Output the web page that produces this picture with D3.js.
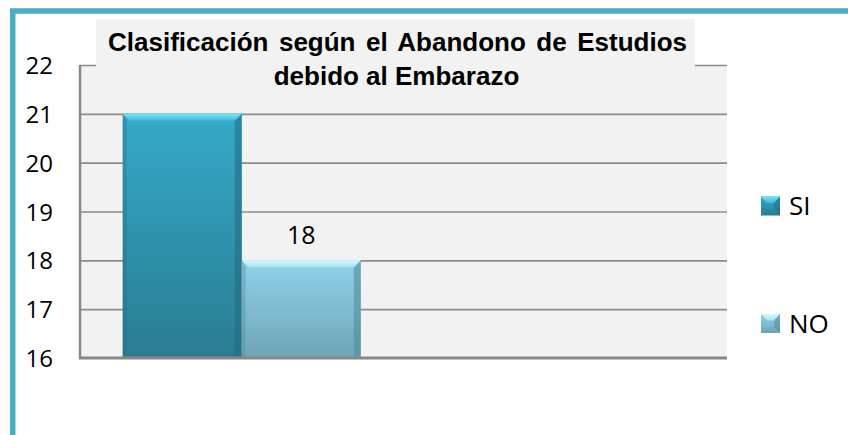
<!DOCTYPE html>
<html>
<head>
<meta charset="utf-8">
<script src="https://cdn.jsdelivr.net/npm/d3@7"></script>
<style>
  html, body { margin: 0; padding: 0; background: #fff; }
  svg { display: block; }
</style>
</head>
<body>
<div id="chart"></div>
<script>
// data
var categories = ["1", "2"];
var series = ["SI", "NO"];
var valuesSI = [21, null];
var valuesNO = [18, null];
var yTicks = [16, 17, 18, 19, 20, 21, 22];
var titleLines = ["Clasificación según el Abandono de Estudios", "debido al Embarazo"];
var labelledSeries = ["NO"];

var width = 848, height = 435;
var margin = {top: 65, right: 121, bottom: 77, left: 80};
var plotW = width - margin.left - margin.right;
var y0 = height - margin.bottom;

var svg = d3.select("#chart").append("svg")
    .attr("width", width)
    .attr("height", height);

var defs = svg.append("defs");
function vGrad(id, top, bottom) {
  var g = defs.append("linearGradient").attr("id", id)
      .attr("x1", 0).attr("y1", 0).attr("x2", 0).attr("y2", 1);
  g.append("stop").attr("offset", "0%").attr("stop-color", top);
  g.append("stop").attr("offset", "100%").attr("stop-color", bottom);
}
vGrad("bodySI", "#35aac9", "#2a7c92");
vGrad("bodyNO", "#92d2ea", "#6ea5b6");
vGrad("capSI", "#72e4f7", "#3fb8d4");
vGrad("capNO", "#d2fcff", "#a6e3f2");

var colors = {
  SI: {body: "url(#bodySI)", cap: "url(#capSI)", edge: "#236a7e"},
  NO: {body: "url(#bodyNO)", cap: "url(#capNO)", edge: "#4f8898"}
};

// outer frame
svg.append("rect")
    .attr("x", 12.75).attr("y", 11)
    .attr("width", width + 20).attr("height", height + 20)
    .attr("fill", "none")
    .attr("stroke", "#4bacc6")
    .attr("stroke-width", 5.5);

// scales
var y = d3.scaleLinear().domain([16, 22]).range([y0, margin.top]);
var x = d3.scaleBand().domain(categories)
    .range([margin.left, margin.left + plotW])
    .paddingInner(0.264).paddingOuter(0.132);
var xs = d3.scaleBand().domain(series).range([0, x.bandwidth()]);

// plot area
svg.append("rect")
    .attr("x", margin.left).attr("y", margin.top)
    .attr("width", plotW).attr("height", y0 - margin.top)
    .attr("fill", "#f2f2f2");

// gridlines
svg.append("g")
    .attr("transform", "translate(" + margin.left + ",0)")
    .call(d3.axisLeft(y).tickValues(yTicks.slice(1)).tickSize(-plotW).tickFormat(""))
    .call(g => g.select(".domain").remove())
    .call(g => g.selectAll(".tick line").attr("stroke", "#8c8c8c").attr("stroke-width", 1.6));

// bars
var rows = [];
categories.forEach(function(c, i) {
  rows.push({cat: c, s: "SI", v: valuesSI[i]});
  rows.push({cat: c, s: "NO", v: valuesNO[i]});
});
rows = rows.filter(d => d.v != null);

var bars = svg.append("g").selectAll("g.bar").data(rows).join("g").attr("class", "bar");
bars.each(function(d) {
  var g = d3.select(this);
  var bx = x(d.cat) + xs(d.s), bw = xs.bandwidth();
  var by = y(d.v), bh = y0 - by;
  var c = colors[d.s];
  var bev = 7;
  g.append("rect").attr("x", bx).attr("y", by).attr("width", bw).attr("height", bh).attr("fill", c.body);
  // side shading
  g.append("polygon")
      .attr("points", [[bx + bw, by], [bx + bw - bev, by + bev], [bx + bw - bev, y0], [bx + bw, y0]].join(" "))
      .attr("fill", c.edge).attr("opacity", 0.55);
  g.append("polygon")
      .attr("points", [[bx, by], [bx + 4, by + bev], [bx + 4, y0], [bx, y0]].join(" "))
      .attr("fill", c.edge).attr("opacity", 0.35);
  // top bevel
  g.append("polygon")
      .attr("points", [[bx, by], [bx + bw, by], [bx + bw - bev, by + bev], [bx + bev, by + bev]].join(" "))
      .attr("fill", c.cap);
});

// data labels
svg.append("g").selectAll("text")
  .data(rows.filter(d => labelledSeries.indexOf(d.s) >= 0))
  .join("text")
    .attr("x", d => x(d.cat) + xs(d.s) + xs.bandwidth() / 2)
    .attr("y", d => y(d.v) - 16)
    .attr("text-anchor", "middle")
    .attr("font-family", "'Open Sans', sans-serif")
    .attr("font-size", 25)
    .attr("fill", "#000")
    .text(d => d.v);

// axes lines
svg.append("line")
    .attr("x1", margin.left).attr("x2", margin.left)
    .attr("y1", margin.top).attr("y2", y0 + 1)
    .attr("stroke", "#878787").attr("stroke-width", 2.5);
svg.append("line")
    .attr("x1", margin.left - 1).attr("x2", margin.left + plotW)
    .attr("y1", y0).attr("y2", y0)
    .attr("stroke", "#878787").attr("stroke-width", 3);

// y tick labels
svg.append("g")
    .attr("transform", "translate(" + (margin.left - 27) + ",0)")
    .call(d3.axisLeft(y).tickValues(yTicks).tickSize(0).tickPadding(0).tickFormat(d3.format("d")))
    .call(g => g.select(".domain").remove())
    .call(g => g.selectAll("text")
        .attr("font-family", "'Open Sans', sans-serif")
        .attr("font-size", 24)
        .attr("fill", "#000")
        .attr("dy", "0.36em"));

// title
svg.append("rect")
    .attr("x", 96).attr("y", 19)
    .attr("width", 599).attr("height", 48)
    .attr("fill", "#f2f2f2");
var tcx = 397.5;
var t1 = svg.append("text")
    .attr("x", tcx).attr("y", 51)
    .attr("text-anchor", "middle")
    .attr("font-family", "'Liberation Sans', Arial, sans-serif")
    .attr("font-weight", "bold")
    .attr("font-size", 26)
    .text(titleLines[0]);
var natural = t1.node().getComputedTextLength();
var gaps = titleLines[0].split(" ").length - 1;
t1.attr("word-spacing", Math.max(0, (579 - natural) / gaps));
svg.append("text")
    .attr("x", tcx - 1).attr("y", 85)
    .attr("text-anchor", "middle")
    .attr("font-family", "'Liberation Sans', Arial, sans-serif")
    .attr("font-weight", "bold")
    .attr("font-size", 26)
    .text(titleLines[1]);

// legend
var legendY = {SI: 206, NO: 323.5};
var leg = svg.append("g").selectAll("g").data(series).join("g")
    .attr("transform", d => "translate(761," + legendY[d] + ")");
leg.append("rect")
    .attr("x", 0).attr("y", -9.5).attr("width", 19).attr("height", 19)
    .attr("fill", d => colors[d].body);
leg.append("polygon")
    .attr("points", [[0, -9.5], [19, -9.5], [13, -3], [6, -3]].join(" "))
    .attr("fill", d => colors[d].cap);
leg.append("polygon")
    .attr("points", [[19, -9.5], [19, 9.5], [13, 4], [13, -3]].join(" "))
    .attr("fill", d => colors[d].edge).attr("opacity", 0.5);
leg.append("text")
    .attr("x", 28).attr("y", 0).attr("dy", "0.36em")
    .attr("font-family", "'Open Sans', sans-serif")
    .attr("font-size", 26)
    .attr("fill", "#000")
    .text(d => d);
</script>
</body>
</html>
